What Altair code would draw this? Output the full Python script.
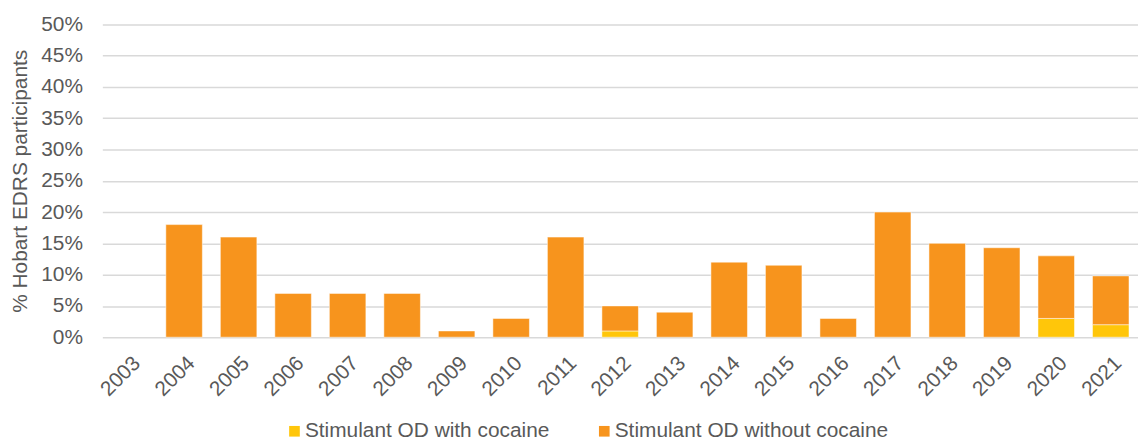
import altair as alt
import pandas as pd

years = [str(y) for y in range(2003, 2022)]
with_cocaine = [0, 0, 0, 0, 0, 0, 0, 0, 0, 1, 0, 0, 0, 0, 0, 0, 0, 3, 2]
total = [0, 18, 16, 7, 7, 7, 1, 3, 16, 5, 4, 12, 11.5, 3, 20, 15, 14.3, 13, 9.8]
without_cocaine = [round(t - c, 2) for t, c in zip(total, with_cocaine)]

s1 = "Stimulant OD with cocaine"
s2 = "Stimulant OD without cocaine"

rows = []
for y, a, b in zip(years, with_cocaine, without_cocaine):
    rows.append({"year": y, "series": s1, "value": a / 100, "ord": 0})
    rows.append({"year": y, "series": s2, "value": b / 100, "ord": 1})
df = pd.DataFrame(rows)

font = "Liberation Sans"
grey = "#595959"
fs = 21

chart = alt.Chart(df).mark_bar(stroke="white", strokeWidth=1, strokeOpacity=0.5).encode(
    x=alt.X("year:N", sort=years, title=None,
            scale=alt.Scale(domain=years, paddingInner=0.33, paddingOuter=0.165),
            axis=alt.Axis(labelAngle=-45, labelFontSize=fs, labelColor=grey, labelFont=font,
                          ticks=False, domain=False, labelPadding=15)),
    y=alt.Y("value:Q", stack="zero", title="% Hobart EDRS participants",
            scale=alt.Scale(domain=[0, 0.5]),
            axis=alt.Axis(format=".0%", values=[i * 0.05 for i in range(11)],
                          labelFontSize=fs, labelColor=grey, labelFont=font,
                          titleFontSize=fs, titleColor=grey, titleFont=font, titleFontWeight="normal",
                          ticks=False, domain=False, labelPadding=20, titlePadding=10,
                          gridColor="#d9d9d9", gridWidth=1.5)),
    color=alt.Color("series:N", sort=[s1, s2],
                    scale=alt.Scale(domain=[s1, s2], range=["#FFC60A", "#F7941D"]),
                    legend=alt.Legend(title=None, orient="none", direction="horizontal",
                                      legendX=183, legendY=399, symbolType="square",
                                      symbolSize=115, symbolStrokeWidth=0, labelFontSize=fs,
                                      labelColor=grey, labelFont=font, columnPadding=44,
                                      labelOffset=0, symbolOpacity=1, labelLimit=400)),
    order=alt.Order("ord:Q", sort="ascending"),
).transform_filter(
    alt.datum.value > 0
).properties(
    width=1043, height=315,
    autosize=alt.AutoSizeParams(type="none"),
    padding={"left": 95, "top": 15, "right": 0, "bottom": 101},
).configure_view(stroke=None)

chart.save("out.html", embed_options={"renderer": "svg", "actions": False})
